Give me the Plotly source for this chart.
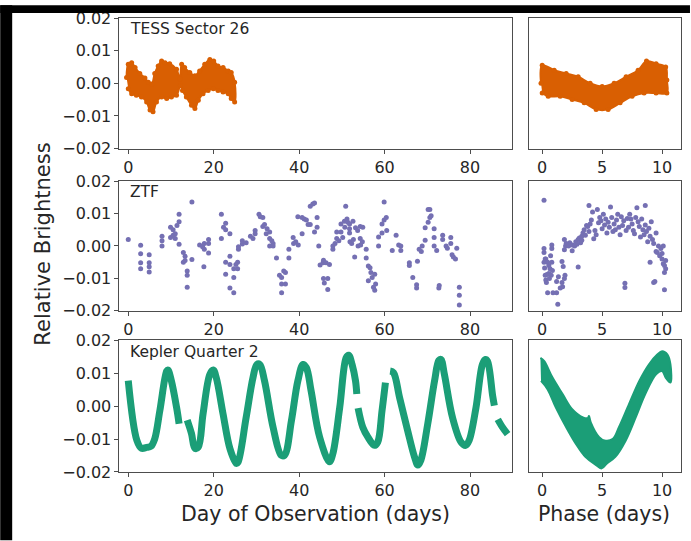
import plotly.graph_objects as go

# ---------------- data ----------------
# TESS Sector 26 light curve: upper / lower envelope of the dense band
tess_t_up = [-0.4, 0.0, 0.8, 1.6, 2.7, 3.9, 4.7, 5.5, 6.2, 7.0, 7.8, 8.6, 9.7, 11.3, 12.1, 12.5, 13.2, 14.4, 15.6,
             16.7, 17.9, 19.1, 20.0, 21.0, 22.2, 23.4, 24.1, 24.9]
tess_f_up = [0.0018, 0.0058, 0.0063, 0.0048, 0.0030, 0.0016, 0.0003, -0.0002, 0.0030, 0.0053, 0.0068, 0.0063, 0.0060,
             0.0043, 0.0013, 0.0058, 0.0048, 0.0033, 0.0023, 0.0038, 0.0058, 0.0073, 0.0068, 0.0053, 0.0048, 0.0038,
             0.0033, 0.0003]
tess_t_lo = [24.9, 24.1, 23.4, 22.2, 21.0, 19.9, 18.7, 17.5, 16.4, 15.6, 14.8, 13.6, 12.7, 12.2, 11.3, 10.1, 9.0,
             7.8, 6.6, 5.8, 5.1, 4.3, 3.1, 1.9, 0.8, 0.0]
tess_f_lo = [-0.0057, -0.0047, -0.0032, -0.0027, -0.0022, -0.0017, -0.0022, -0.0032, -0.0052, -0.0077, -0.0067,
             -0.0042, -0.0022, -0.0007, -0.0037, -0.0042, -0.0047, -0.0042, -0.0057, -0.0087, -0.0082, -0.0057,
             -0.0042, -0.0037, -0.0032, -0.0017]

# TESS phase-folded band
tessp_ph_up = [-0.1, 0.0, 1, 2, 3, 4, 5, 6, 7, 8, 8.7, 9.5, 10.3, 10.4]
tessp_f_up = [0.0, 0.0055, 0.004, 0.003, 0.002, 0.0, -0.001, 0.0, 0.002, 0.004, 0.0068, 0.006, 0.005, 0.001]
tessp_ph_lo = [10.4, 9.5, 8.5, 7.5, 6.5, 5.5, 4.5, 3.5, 2.5, 1.5, 0.5, 0.0]
tessp_f_lo = [-0.003, -0.003, -0.003, -0.004, -0.006, -0.008, -0.008, -0.006, -0.005, -0.004, -0.004, -0.003]

# ZTF photometry (day, relative brightness)
ztf_t = [0.0, 2.9, 2.9, 2.9, 2.9, 4.9, 4.9, 4.9, 4.9, 7.9, 7.9, 7.9, 9.9, 9.9, 10.5, 10.5, 11.0, 11.0, 11.4, 11.9,
         11.9, 11.9, 12.9, 12.9, 13.3, 13.3, 13.8, 13.8, 13.8, 14.9, 14.9, 16.7, 17.4, 17.8, 17.8, 17.7, 18.8, 18.8,
         18.8, 21.8, 21.8, 22.3, 22.8, 22.8, 23.8, 22.8, 23.8, 23.8, 22.8, 23.8, 24.7, 24.7, 24.7, 25.6, 25.6, 25.2,
         25.8, 25.8, 26.7, 26.7, 27.6, 28.6, 29.2, 29.7, 29.7, 30.6, 30.9, 31.5, 31.5, 31.9, 32.5, 32.3, 33.1, 33.1,
         33.1, 33.9, 33.9, 33.6, 34.7, 35.4, 35.9, 35.9, 35.9, 36.8, 36.8, 36.4, 37.6, 37.6, 38.6, 38.7, 39.2, 39.8,
         39.7, 40.7, 40.7, 41.2, 41.7, 42.1, 42.6, 42.6, 43.2, 43.6, 43.6, 44.2, 44.2, 44.6, 44.9, 45.6, 45.7, 45.7,
         45.9, 46.3, 46.7, 46.7, 47.1, 47.9, 47.9, 48.4, 48.8, 48.8, 49.3, 49.8, 49.8, 50.2, 50.6, 50.7, 50.9, 51.2,
         51.4, 51.8, 51.8, 51.8, 51.9, 52.3, 52.6, 52.7, 53.0, 53.2, 53.7, 53.8, 54.3, 54.3, 54.4, 54.8, 54.9, 55.7,
         55.7, 56.2, 56.2, 56.6, 56.8, 57.1, 57.4, 57.7, 57.7, 57.9, 58.6, 58.6, 59.4, 59.4, 59.9, 59.9, 60.4, 60.5,
         61.8, 62.7, 63.3, 63.8, 63.8, 65.8, 65.8, 66.6, 67.5, 67.5, 67.7, 68.1, 68.6, 68.8, 69.5, 69.5, 70.2, 70.2,
         70.6, 70.6, 70.9, 71.6, 71.6, 71.6, 72.2, 72.7, 72.8, 73.6, 73.6, 74.4, 74.7, 75.5, 75.5, 75.8, 76.1, 76.6,
         76.9, 77.5, 77.5, 77.5]
ztf_f = [0.0020, 0.0002, -0.0024, -0.0052, -0.0070, -0.0027, -0.0052, -0.0064, -0.0080, 0.0030, 0.0016, 0.0000,
         0.0058, 0.0026, 0.0050, 0.0033, 0.0038, 0.0023, 0.0063, 0.0098, 0.0075, 0.0005, -0.0020, -0.0050, -0.0032,
         -0.0045, -0.0077, -0.0090, -0.0127, 0.0136, -0.0042, 0.0003, -0.0002, 0.0008, -0.0010, -0.0064, 0.0020,
         0.0008, -0.0022, 0.0098, 0.0023, 0.0058, 0.0070, 0.0050, 0.0038, -0.0050, -0.0032, -0.0057, -0.0087, -0.0130,
         -0.0144, -0.0097, -0.0070, -0.0050, -0.0070, -0.0057, -0.0010, -0.0002, 0.0006, 0.0016, 0.0010, 0.0030,
         0.0023, 0.0038, 0.0048, 0.0098, 0.0090, 0.0088, 0.0060, 0.0066, 0.0053, 0.0038, 0.0043, 0.0023, 0.0000,
         0.0008, 0.0000, 0.0016, -0.0037, -0.0090, -0.0097, -0.0117, -0.0144, -0.0117, -0.0082, -0.0077, -0.0010,
         -0.0037, 0.0026, 0.0008, 0.0013, 0.0003, 0.0090, 0.0088, 0.0038, 0.0083, 0.0080, 0.0066, 0.0066, 0.0123,
         0.0130, 0.0133, 0.0043, 0.0058, 0.0088, 0.0000, -0.0059, -0.0052, -0.0044, -0.0100, -0.0114, -0.0052,
         -0.0134, -0.0100, -0.0057, -0.0010, 0.0000, 0.0008, 0.0023, 0.0043, 0.0016, 0.0068, 0.0043, 0.0026, 0.0076,
         0.0058, 0.0123, 0.0083, 0.0073, 0.0068, 0.0053, 0.0040, 0.0013, 0.0008, 0.0076, 0.0020, -0.0034, 0.0056,
         0.0048, 0.0000, 0.0060, 0.0023, 0.0003, 0.0013, 0.0058, -0.0010, -0.0037, -0.0107, -0.0062, -0.0067, -0.0082,
         -0.0097, -0.0127, -0.0137, -0.0087, -0.0117, 0.0028, 0.0000, 0.0040, 0.0068, 0.0080, 0.0136, 0.0088, 0.0048,
         -0.0014, 0.0033, 0.0003, -0.0014, 0.0000, -0.0052, -0.0060, -0.0097, -0.0120, -0.0130, -0.0047, -0.0010,
         -0.0017, 0.0000, 0.0056, 0.0018, 0.0073, 0.0113, 0.0113, 0.0088, 0.0093, 0.0053, 0.0026, 0.0000, -0.0014,
         -0.0130, -0.0122, 0.0033, 0.0020, 0.0000, -0.0007, 0.0026, 0.0008, -0.0027, -0.0034, -0.0040, -0.0007,
         -0.0127, -0.0152, -0.0182]

# ZTF phase-folded (phase, relative brightness)
ztfp_ph = [0.15, 0.15, 0.15, 0.25, 0.15, 0.2, 0.25, 0.3, 0.35, 0.3, 0.45, 0.55, 0.65, 0.55, 0.75, 0.6, 0.8, 0.8, 0.8,
           0.85, 0.7, 0.45, 0.4, 0.9, 1.2, 1.3, 1.2, 1.35, 1.5, 1.65, 1.7, 1.85, 1.9, 1.65, 1.85, 1.95, 1.85, 1.75,
           2.0, 2.2, 2.3, 2.5, 2.5, 2.7, 2.8, 2.9, 3.0, 3.1, 3.2, 3.3, 3.4, 3.0, 3.3, 3.5, 3.6, 3.7, 3.8, 3.9, 4.0,
           3.9, 4.1, 4.2, 4.3, 4.4, 4.5, 4.6, 4.7, 4.8, 4.9, 5.0, 5.1, 5.2, 5.3, 5.4, 5.5, 5.6, 5.7, 5.8, 5.9, 6.0,
           6.1, 6.2, 6.3, 6.4, 6.5, 6.6, 6.7, 6.8, 6.9, 6.9, 7.0, 7.1, 7.2, 7.3, 7.4, 7.5, 7.6, 7.7, 7.8, 7.9, 8.0,
           8.1, 8.2, 8.3, 8.4, 8.5, 8.6, 8.6, 8.7, 8.8, 8.9, 9.0, 9.0, 9.1, 9.2, 9.3, 9.3, 9.4, 9.5, 9.5, 9.6, 9.7,
           9.8, 9.9, 10.0, 10.0, 10.1, 10.1, 10.2, 10.2, 10.2, 10.3, 10.3]
ztfp_f = [0.0141, -0.0008, -0.0020, -0.0040, -0.0050, -0.0068, -0.0090, -0.0105, -0.0113, -0.0040, -0.0050, -0.0060,
          -0.0070, -0.0085, -0.0090, -0.0100, -0.0050, -0.0008, 0.0003, -0.0076, -0.0030, -0.0144, -0.0088, -0.0144,
          -0.0144, -0.0180, -0.0110, -0.0095, -0.0130, -0.0113, -0.0126, -0.0100, -0.0090, -0.0048, -0.0012, 0.0000,
          0.0020, -0.0063, 0.0008, 0.0000, 0.0010, -0.0015, 0.0003, 0.0000, 0.0013, 0.0005, 0.0020, 0.0025, 0.0010,
          0.0030, 0.0040, -0.0065, 0.0018, 0.0050, 0.0033, 0.0063, 0.0060, 0.0045, 0.0068, 0.0125, 0.0080, 0.0105,
          0.0022, 0.0048, 0.0035, 0.0113, 0.0072, 0.0088, 0.0078, 0.0053, 0.0098, 0.0065, 0.0083, 0.0040, 0.0073,
          0.0058, 0.0120, 0.0088, 0.0045, 0.0068, 0.0050, 0.0080, 0.0098, 0.0058, 0.0035, 0.0090, 0.0063, 0.0078,
          -0.0115, -0.0128, 0.0048, 0.0085, 0.0058, 0.0098, 0.0083, 0.0068, 0.0048, 0.0038, 0.0088, 0.0118, 0.0075,
          0.0060, 0.0028, 0.0083, 0.0050, 0.0035, 0.0065, 0.0125, 0.0045, 0.0013, 0.0055, 0.0030, -0.0050, 0.0075,
          0.0020, 0.0008, -0.0113, -0.0110, -0.0017, 0.0040, -0.0020, 0.0000, -0.0030, -0.0008, -0.0040, -0.0023,
          -0.0055, 0.0000, -0.0060, -0.0082, -0.0135, -0.0045, -0.0070]

# Kepler Quarter 2 light curve (centre line; None = data gap)
kep_t = [0.0, 2.0, 3.1, 4.3, 5.3, 6.2, 7.4, 9.0, 9.3, 10.1, 11.3, 11.9, None,
         13.8, 14.8, 15.6, 16.4, 17.5, 19.1, 19.9, 20.6, 22.2, 23.8, 25.3, 25.7, 27.6, 29.2, 30.1, 30.8, 31.9, 33.9,
         35.8, 36.6, 38.2, 39.7, 40.9, 41.7, 42.8, 44.8, 47.1, 47.9, 49.5, 51.0, 51.6, 52.4, 53.2, 53.5, None,
         53.8, 54.9, 56.1, 57.6, 58.4, 59.4, 60.2, None,
         61.3, 62.1, 63.5, 65.4, 67.0, 67.8, 68.5, 70.1, 71.7, 72.7, 73.2, 74.0, 75.9, 77.9, 79.0, 79.8, 81.4, 82.9,
         83.6, 84.1, 85.3, 85.7, None,
         86.5, 87.5, 88.8]
kep_f = [0.0078, -0.0103, -0.0128, -0.0125, -0.0122, -0.0099, -0.0013, 0.0107, 0.0110, 0.0077, -0.0003, -0.0053, None,
         -0.0042, -0.0083, -0.0128, -0.0124, -0.0024, 0.0097, 0.0110, 0.0087, -0.0024, -0.0129, -0.0174, -0.0170,
         -0.0034, 0.0087, 0.0127, 0.0127, 0.0077, -0.0064, -0.0149, -0.0149, -0.0044, 0.0077, 0.0127, 0.0117, 0.0047,
         -0.0094, -0.0169, -0.0144, -0.0004, 0.0147, 0.0155, 0.0127, 0.0077, 0.0037, None,
         -0.0006, -0.0064, -0.0094, -0.0119, -0.0109, -0.0014, 0.0072, None,
         0.0107, 0.0102, 0.0027, -0.0074, -0.0154, -0.0179, -0.0164, -0.0054, 0.0077, 0.0139, 0.0142, 0.0097, -0.0034,
         -0.0109, -0.0119, -0.0104, -0.0004, 0.0127, 0.0142, 0.0137, 0.0032, 0.0002, None,
         -0.0040, -0.0062, -0.0085]

# Kepler phase-folded band outline
kepp_ph = [-0.15, 0.17, 0.86, 1.7, 2.5, 3.4, 3.8, 3.9, 4.05, 4.75, 5.2, 5.9, 6.4, 7.25, 8.1, 8.9, 9.6, 10.0, 10.45,
           10.7, 10.7, 10.3, 10.0, 9.5, 8.6, 7.8, 6.97, 6.1, 5.4, 4.97, 4.5, 3.6, 2.8, 2.0, 1.14, 0.44, -0.1]
kepp_f = [0.0147, 0.0137, 0.0087, 0.0037, -0.0009, -0.0034, -0.0036, -0.0030, -0.0049, -0.0094, -0.0104, -0.0099,
          -0.0064, 0.0007, 0.0077, 0.0127, 0.0157, 0.0167, 0.0157, 0.0127, 0.0072, 0.0087, 0.0107, 0.0097, 0.0037,
          -0.0034, -0.0104, -0.0154, -0.0174, -0.0189, -0.0179, -0.0154, -0.0114, -0.0064, -0.0004, 0.0052, 0.0077]

panel_labels = ["TESS Sector 26", "ZTF", "Kepler Quarter 2"]
y_ticks = [-0.02, -0.01, 0.0, 0.01, 0.02]
y_tick_text = ["\u22120.02", "\u22120.01", "0.00", "0.01", "0.02"]
day_ticks = [0, 20, 40, 60, 80]
phase_ticks = [0, 5, 10]

ORANGE = "#D95F02"
PURPLE = "#7570B3"
GREEN = "#1B9E77"

# ---------------- figure ----------------
W, H = 691, 541
ML, MR, MT, MB = 119, 9, 13, 69
PW, PH = W - ML - MR, H - MT - MB


def px_x(p):
    return (p - ML) / PW


def px_y(p):
    return (H - MB - p) / PH


main_dom = [px_x(119.5), px_x(513)]
side_dom = [px_x(530), 1.0]
row_dom = [[px_y(145), 1.0], [px_y(309), px_y(178)], [0.0, px_y(339)]]

fig = go.Figure()

FONT = "DejaVu Sans"
TXT = "#262626"
FRAME = "#4d4d4d"

# TESS (dense band drawn as outline + fill, with dots along the edge for texture)
fig.add_trace(go.Scatter(x=tess_t_up + tess_t_lo, y=tess_f_up + tess_f_lo, fill="toself", mode="lines+markers",
                         line=dict(color=ORANGE, width=2, shape="spline"), fillcolor=ORANGE,
                         marker=dict(color=ORANGE, size=5),
                         xaxis="x", yaxis="y", hoverinfo="skip"))
fig.add_trace(go.Scatter(x=tessp_ph_up + tessp_ph_lo, y=tessp_f_up + tessp_f_lo, fill="toself", mode="lines+markers",
                         line=dict(color=ORANGE, width=2, shape="spline"), fillcolor=ORANGE,
                         marker=dict(color=ORANGE, size=5),
                         xaxis="x2", yaxis="y2", hoverinfo="skip"))
# ZTF
fig.add_trace(go.Scatter(x=ztf_t, y=ztf_f, mode="markers", marker=dict(color=PURPLE, size=5),
                         xaxis="x3", yaxis="y3"))
fig.add_trace(go.Scatter(x=ztfp_ph, y=ztfp_f, mode="markers", marker=dict(color=PURPLE, size=5),
                         xaxis="x4", yaxis="y4"))
# Kepler
fig.add_trace(go.Scatter(x=kep_t, y=kep_f, mode="lines", line=dict(color=GREEN, width=7, shape="spline"),
                         connectgaps=False, xaxis="x5", yaxis="y5"))
fig.add_trace(go.Scatter(x=kepp_ph, y=kepp_f, fill="toself", mode="lines",
                         line=dict(color=GREEN, width=2, shape="spline"), fillcolor=GREEN,
                         xaxis="x6", yaxis="y6"))

TICKFONT = dict(family=FONT, size=16, color=TXT)
axis_common = dict(showline=True, linecolor=FRAME, linewidth=1, mirror=True, showgrid=False, zeroline=False,
                   ticks="outside", ticklen=4, tickcolor=FRAME, tickfont=TICKFONT)

layout = dict(width=W, height=H, margin=dict(l=ML, r=MR, t=MT, b=MB), paper_bgcolor="white",
              plot_bgcolor="white", showlegend=False)

for r in range(3):
    mi = 2 * r + 1
    si = 2 * r + 2
    mx = "xaxis" if mi == 1 else f"xaxis{mi}"
    my = "yaxis" if mi == 1 else f"yaxis{mi}"
    sx = f"xaxis{si}"
    sy = f"yaxis{si}"
    layout[mx] = dict(axis_common, domain=main_dom, range=[-2.05, 89.9], tickvals=day_ticks,
                      anchor="y" if mi == 1 else f"y{mi}")
    layout[my] = dict(axis_common, domain=row_dom[r], range=[-0.02, 0.02], tickvals=y_ticks,
                      ticktext=y_tick_text, anchor="x" if mi == 1 else f"x{mi}")
    layout[sx] = dict(axis_common, domain=side_dom, range=[-1.08, 11.58], tickvals=phase_ticks, anchor=f"y{si}")
    layout[sy] = dict(axis_common, domain=row_dom[r], range=[-0.02, 0.02], ticks="", showticklabels=False,
                      anchor=f"x{si}")

fig.update_layout(**layout)

annotations = []
for r, lab in enumerate(panel_labels):
    mi = 2 * r + 1
    annotations.append(dict(text=lab, xref=("x" if mi == 1 else f"x{mi}") + " domain",
                            yref=("y" if mi == 1 else f"y{mi}") + " domain",
                            x=0.022, y=0.915, xanchor="left", yanchor="middle", showarrow=False,
                            font=dict(family=FONT, size=15.5, color=TXT)))
annotations.append(dict(text="Relative Brightness", xref="paper", yref="paper", x=px_x(42), y=px_y(242),
                        textangle=-90, showarrow=False, xanchor="center", yanchor="middle",
                        font=dict(family=FONT, size=21, color=TXT)))
annotations.append(dict(text="Day of Observation (days)", xref="paper", yref="paper", x=px_x(316), y=px_y(514),
                        showarrow=False, xanchor="center", yanchor="middle",
                        font=dict(family=FONT, size=20.5, color=TXT)))
annotations.append(dict(text="Phase (days)", xref="paper", yref="paper", x=px_x(605), y=px_y(514),
                        showarrow=False, xanchor="center", yanchor="middle",
                        font=dict(family=FONT, size=20.5, color=TXT)))
fig.update_layout(annotations=annotations)

# black border strips of the original image
fig.add_shape(type="rect", xref="paper", yref="paper", x0=px_x(0), x1=px_x(12), y0=px_y(H), y1=px_y(0),
              fillcolor="black", line=dict(width=0), layer="above")
fig.add_shape(type="rect", xref="paper", yref="paper", x0=px_x(0), x1=px_x(W), y0=px_y(8), y1=px_y(0),
              fillcolor="black", line=dict(width=0), layer="above")

fig.write_html("out.html")
